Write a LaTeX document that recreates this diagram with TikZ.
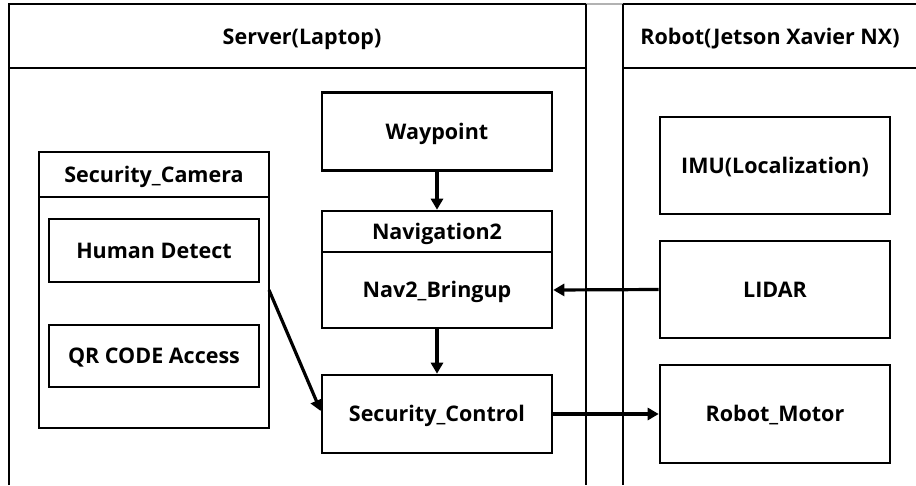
\documentclass[tikz,border=0pt]{standalone}
\usepackage{fontspec}
\setmainfont{Open Sans}
\usetikzlibrary{arrows.meta}

\tikzset{
  frame/.style={line width=2.6pt},
  lbl/.style={font=\fontsize{21.5}{25}\selectfont\bfseries,
    text height=15.3pt, text depth=0pt},
  blk/.style={lbl, draw, line width=2.6pt, rectangle, inner sep=0pt},
  flow/.style={line width=3.2pt, -{Triangle[length=11pt,width=12pt]}},
}

\begin{document}
\begin{tikzpicture}[x=1pt,y=-1pt]
\useasboundingbox (0,0) rectangle (916,485);

% panel frames
\draw[frame] (9,485) -- (9,4) -- (586,4);
\draw[frame, gray!60] (586,4) -- (623,4);
\draw[frame] (623,4) -- (916,4);
\draw[frame] (586,4) -- (586,485);
\draw[frame] (623,4) -- (623,485);
\draw[frame] (9,68) -- (586,68);
\draw[frame] (623,68) -- (916,68);

% panel titles
\node[lbl] (srv) at (302,37) {Server(Laptop)};
\node[lbl] (rob) at (770,37) {Robot(Jetson Xavier NX)};

% camera group
\node[blk, minimum width=230pt, minimum height=45pt] (camh) at (154,174.5) {Security\_Camera};
\node[blk, minimum width=230pt, minimum height=231pt] (camb) at (154,312.5) {};
\node[blk, minimum width=210pt, minimum height=63pt] (hd) at (154,250.5) {Human Detect};
\node[blk, minimum width=210pt, minimum height=62pt] (qr) at (154,356) {QR CODE Access};

% navigation stack
\node[blk, minimum width=230pt, minimum height=78pt] (wp) at (437,131.5) {Waypoint};
\node[blk, minimum width=230pt, minimum height=41pt] (navh) at (437,231.5) {Navigation2};
\node[blk, minimum width=230pt, minimum height=76pt] (navb) at (437,290) {Nav2\_Bringup};
\node[blk, minimum width=230pt, minimum height=78pt] (sc) at (437,414) {Security\_Control};

% robot side
\node[blk, minimum width=230pt, minimum height=97pt] (imu) at (775,165.5) {IMU(Localization)};
\node[blk, minimum width=230pt, minimum height=97pt] (lidar) at (775,289.5) {LIDAR};
\node[blk, minimum width=230pt, minimum height=98pt] (motor) at (775,414) {Robot\_Motor};

% connectors
\coordinate (camout) at (269,290);
\draw[flow] (wp.south) -- (navh.north);
\draw[flow] (navb.south) -- (sc.north);
\draw[flow] (lidar.west) -- (navb.east);
\draw[flow] (sc.east) -- (motor.west);
\draw[flow] (camout) -- ([yshift=3pt]sc.west);
\end{tikzpicture}
\end{document}
